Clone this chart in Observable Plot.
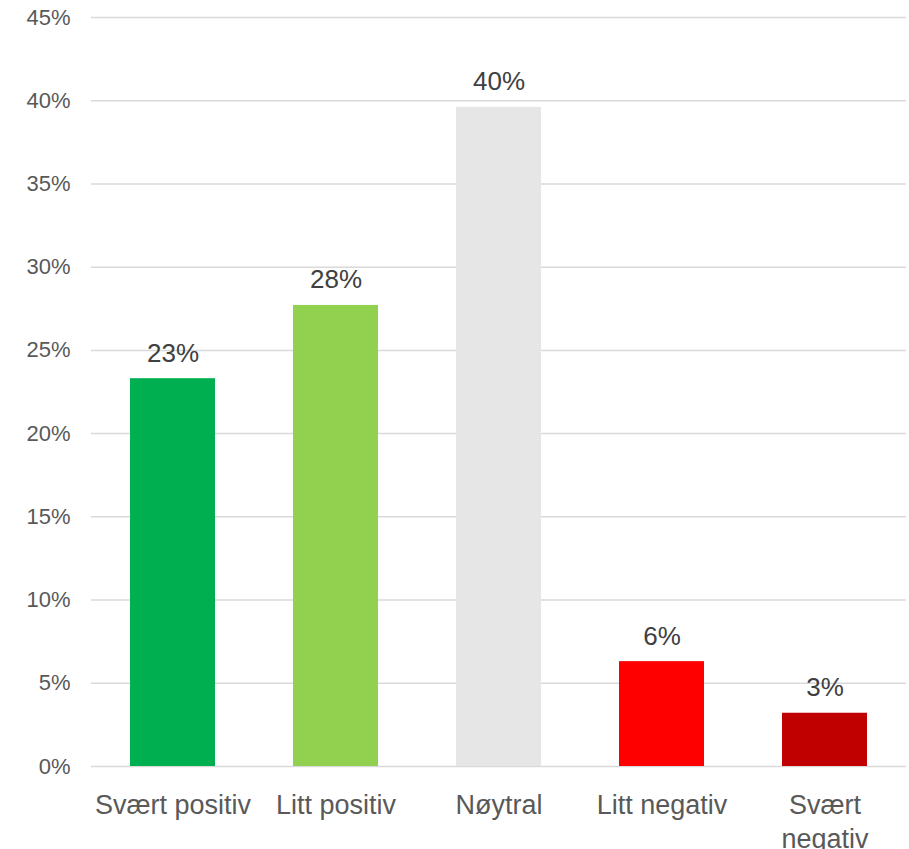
<!DOCTYPE html>
<html>
<head>
<meta charset="utf-8">
<script src="https://cdn.jsdelivr.net/npm/d3@7"></script>
<script src="https://cdn.jsdelivr.net/npm/@observablehq/plot@0.6"></script>
<style>
  html, body { margin: 0; padding: 0; background: #ffffff; }
  svg { display: block; }
</style>
</head>
<body>
<div id="chart"></div>
<script>
const categories = ["Svært positiv", "Litt positiv", "Nøytral", "Litt negativ", "Svært negativ"];
const values = [0.233, 0.277, 0.396, 0.063, 0.032];
const colors = ["#00B050", "#92D050", "#E7E6E6", "#FF0000", "#C00000"];
const yTicks = [0, 0.05, 0.10, 0.15, 0.20, 0.25, 0.30, 0.35, 0.40, 0.45];

const data = categories.map((c, i) => ({category: c, value: values[i]}));
const pct = d3.format(".0%");

const chart = Plot.plot({
  width: 909,
  height: 849,
  marginLeft: 91,
  marginRight: 3,
  marginTop: 17,
  marginBottom: 83,
  style: {fontFamily: "'Liberation Sans', Arial, sans-serif", background: "#ffffff", overflow: "visible"},
  x: {domain: categories, paddingInner: 0.48, paddingOuter: 0.24, label: null},
  y: {domain: [0, 0.45], label: null},
  color: {domain: categories, range: colors},
  marks: [
    Plot.gridY(yTicks, {stroke: "#d9d9d9", strokeOpacity: 1, strokeWidth: 1.5}),
    Plot.barY(data, {x: "category", y: "value", fill: "category"}),
    Plot.text(data, {
      x: "category", y: "value", text: d => pct(d.value),
      lineAnchor: "bottom", dy: -17, fontSize: 26, fill: "#404040"
    }),
    Plot.axisY({
      ticks: yTicks, tickFormat: pct, tickSize: 0, tickPadding: 21,
      fontSize: 22, color: "#595959", label: null
    }),
    Plot.axisX({
      tickSize: 0, tickPadding: 23, fontSize: 27, color: "#595959", lineHeight: 1.27, label: null,
      tickFormat: d => d === "Svært negativ" ? "Svært\nnegativ" : d
    })
  ]
});
document.getElementById("chart").appendChild(chart);
</script>
</body>
</html>
